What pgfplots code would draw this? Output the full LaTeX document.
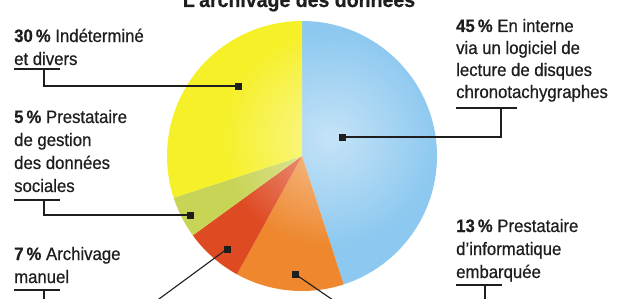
\documentclass[border=0pt]{standalone}
\usepackage{pgfplots}
\pgfplotsset{compat=1.18}
\usepackage{fontspec}
\setmainfont{Liberation Sans}[FakeStretch=0.93, FakeBold=0.6]
\usetikzlibrary{fadings}
\definecolor{cblue}{RGB}{140,200,240}
\definecolor{corange}{RGB}{238,135,45}
\definecolor{cred}{RGB}{222,75,35}
\definecolor{cgreen}{RGB}{200,212,85}
\definecolor{cyellow}{RGB}{246,240,40}
\definecolor{ctext}{RGB}{30,30,30}
\tikzfading[name=pieglow, inner color=transparent!50, outer color=transparent!100]
\begin{document}
\begin{tikzpicture}
\begin{axis}[hide axis, x=1pt, y=1pt, xmin=0, xmax=620, ymin=0, ymax=298,
  clip=false, scale only axis]
\coordinate (bl) at (axis cs:0,0);
\coordinate (tr) at (axis cs:620,298);
% pie slices: 45, 13, 7, 5, 30 (percent), clockwise from top
\xdef\curang{90}
\foreach \v/\c in {45/cblue,13/corange,7/cred,5/cgreen,30/cyellow}{
  \pgfmathsetmacro\endang{\curang-3.6*\v}
  \edef\temp{\noexpand\fill[\c] (axis cs:302,142) -- ++(\curang:135pt) arc[start angle=\curang, end angle=\endang, radius=135pt] -- cycle;}
  \temp
  \xdef\curang{\endang}
}
\fill[white, path fading=pieglow] (axis cs:330,160) circle[radius=110pt];
% leader lines
\addplot[ctext, line width=1.1pt] coordinates {(501,190) (501,161) (342,161)};
\addplot[ctext, line width=1.1pt] coordinates {(485,13) (485,-12)};
\addplot[ctext, line width=1.1pt] coordinates {(295,24) (347.5,-12)};
\addplot[ctext, line width=1.1pt] coordinates {(227,49) (144,-12)};
\addplot[ctext, line width=1.1pt] coordinates {(44,98) (44,83) (190,83)};
\addplot[ctext, line width=1.1pt] coordinates {(44,229) (44,212) (238,212)};
\addplot[ctext, line width=1.1pt] coordinates {(44,8) (44,-12)};
% underlines
\addplot[ctext, line width=1.8pt] coordinates {(456,190) (517,190)};
\addplot[ctext, line width=1.8pt] coordinates {(456,13) (502,13)};
\addplot[ctext, line width=1.8pt] coordinates {(14,98) (60,98)};
\addplot[ctext, line width=1.8pt] coordinates {(14,229) (60,229)};
\addplot[ctext, line width=1.8pt] coordinates {(14,8) (60,8)};
% markers
\addplot[only marks, mark=square*, mark size=2.8pt, ctext] coordinates {(342,161) (295,24) (227,49) (190,83) (238,212)};
% texts
\tikzset{lab/.style={anchor=base west, inner sep=0pt, text=ctext, font=\fontsize{18}{22}\selectfont}}
\node[lab] at (axis cs:14,256) {\textbf{30\,\%} Indéterminé};
\node[lab] at (axis cs:14,233) {et divers};
\node[lab] at (axis cs:14,175) {\textbf{5\,\%} Prestataire};
\node[lab] at (axis cs:14,152) {de gestion};
\node[lab] at (axis cs:14,129) {des données};
\node[lab] at (axis cs:14,106) {sociales};
\node[lab] at (axis cs:14,38) {\textbf{7\,\%} Archivage};
\node[lab] at (axis cs:14,15) {manuel};
\node[lab] at (axis cs:456,266) {\textbf{45\,\%} En interne};
\node[lab] at (axis cs:456,244) {via un logiciel de};
\node[lab] at (axis cs:456,222) {lecture de disques};
\node[lab] at (axis cs:456,200) {chronotachygraphes};
\node[lab] at (axis cs:456,66) {\textbf{13\,\%} Prestataire};
\node[lab] at (axis cs:456,43) {d’informatique};
\node[lab] at (axis cs:456,20) {embarquée};
\node[anchor=base, inner sep=0pt, text=ctext, font=\fontsize{21}{24}\selectfont\bfseries] at (axis cs:299,291) {L’archivage des données};
\end{axis}
\pgfresetboundingbox
\path[use as bounding box] (bl) rectangle (tr);
\end{tikzpicture}
\end{document}
